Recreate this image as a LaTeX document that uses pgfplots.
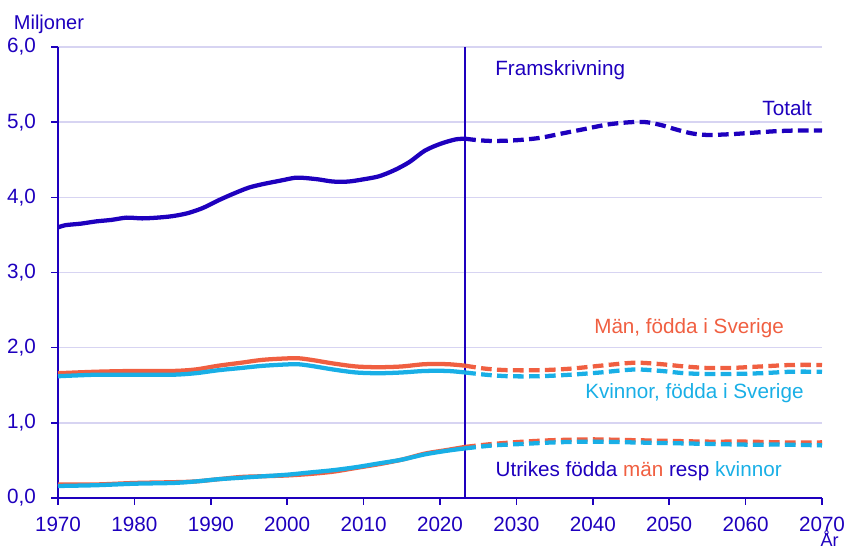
\documentclass[border=0pt]{standalone}
\usepackage{pgfplots}
\pgfplotsset{compat=1.18}
\usepackage{fontspec}
\setmainfont{Liberation Sans}
\definecolor{scbblue}{RGB}{30,0,190}
\definecolor{scborange}{RGB}{240,95,65}
\definecolor{scblight}{RGB}{25,175,230}
\definecolor{gridc}{RGB}{215,212,242}
\begin{document}
\begin{tikzpicture}
\begin{axis}[
  scale only axis,
  width=573pt, height=338.25pt,
  xmin=1970, xmax=2070, ymin=0, ymax=6,
  axis x line*=bottom, axis y line*=left,
  axis line style={scbblue, line width=1.2pt},
  xtick={1970,1980,...,2070},
  ytick={0,1,...,6},
  tick style={scbblue, line width=1.2pt},
  tick align=outside,
  major tick length=5pt,
  ymajorgrids,
  grid style={gridc, line width=1.1pt},
  x tick label style={/pgf/number format/1000 sep={}, font=\fontsize{15.5}{18}\selectfont, text=scbblue, yshift=-5.5pt},
  y tick label style={/pgf/number format/.cd, use comma, fixed, fixed zerofill, precision=1, /tikz/.cd, font=\fontsize{15.5}{18}\selectfont, text=scbblue, xshift=-8pt},
  /pgf/number format/assume math mode=true,
  clip=false,
  every axis plot/.append style={line width=3.2pt, smooth, no markers},
]
\coordinate (o) at (axis cs:1970,0);
% Vertical line at 2023
\addplot[scbblue, line width=1.2pt, sharp plot] coordinates {(2023.3,0) (2023.3,6)};

% Foreign-born men (orange)
\addplot[scborange] coordinates {(1970,0.18)(1975,0.18)(1980,0.20)(1985,0.21)(1988,0.22)(1991,0.25)(1994,0.28)(1997,0.29)(2000,0.30)(2003,0.32)(2006,0.35)(2009,0.40)(2012,0.45)(2015,0.51)(2018,0.59)(2021,0.64)(2023.3,0.68)};
\addplot[scborange, dash pattern=on 8pt off 4pt] coordinates {(2023.3,0.68)(2027,0.72)(2031,0.75)(2035,0.77)(2040,0.78)(2045,0.77)(2050,0.76)(2055,0.75)(2060,0.75)(2065,0.74)(2070,0.74)};
% Foreign-born women (light blue)
\addplot[scblight] coordinates {(1970,0.16)(1975,0.17)(1980,0.19)(1985,0.20)(1988,0.22)(1991,0.25)(1994,0.27)(1997,0.29)(2000,0.31)(2003,0.34)(2006,0.37)(2009,0.41)(2012,0.46)(2015,0.51)(2018,0.58)(2021,0.63)(2023.3,0.66)};
\addplot[scblight, dash pattern=on 8pt off 4pt] coordinates {(2023.3,0.66)(2027,0.70)(2031,0.72)(2035,0.74)(2040,0.75)(2045,0.74)(2050,0.73)(2055,0.72)(2060,0.71)(2065,0.71)(2070,0.70)};

% Men born in Sweden
\addplot[scborange] coordinates {(1970,1.66)(1975,1.68)(1980,1.69)(1985,1.69)(1988,1.71)(1991,1.76)(1994,1.80)(1997,1.84)(2001,1.86)(2003,1.84)(2006,1.79)(2009,1.75)(2012,1.74)(2015,1.75)(2018,1.78)(2021,1.78)(2023.3,1.76)};
\addplot[scborange, dash pattern=on 8pt off 4pt] coordinates {(2023.3,1.76)(2026,1.72)(2029,1.70)(2033,1.70)(2037,1.72)(2041,1.76)(2044,1.79)(2046,1.80)(2049,1.78)(2052,1.75)(2055,1.73)(2058,1.73)(2062,1.75)(2066,1.77)(2070,1.77)};
% Women born in Sweden
\addplot[scblight] coordinates {(1970,1.62)(1975,1.64)(1980,1.64)(1985,1.64)(1988,1.66)(1991,1.70)(1994,1.73)(1997,1.76)(2001,1.78)(2003,1.76)(2006,1.71)(2009,1.67)(2012,1.66)(2015,1.67)(2018,1.69)(2021,1.69)(2023.3,1.67)};
\addplot[scblight, dash pattern=on 8pt off 4pt] coordinates {(2023.3,1.67)(2026,1.64)(2029,1.62)(2033,1.62)(2037,1.64)(2041,1.67)(2044,1.70)(2046,1.71)(2049,1.69)(2052,1.66)(2055,1.65)(2058,1.65)(2062,1.66)(2066,1.68)(2070,1.68)};

% Total
\addplot[scbblue] coordinates {(1970,3.60)(1971,3.63)(1973,3.65)(1975,3.68)(1977,3.70)(1979,3.73)(1981,3.72)(1983,3.73)(1985,3.75)(1987,3.79)(1989,3.86)(1991,3.96)(1993,4.05)(1995,4.13)(1997,4.18)(1999,4.22)(2001,4.26)(2002,4.26)(2004,4.24)(2006,4.21)(2008,4.21)(2010,4.24)(2012,4.28)(2014,4.36)(2016,4.47)(2018,4.62)(2020,4.71)(2022,4.77)(2023.3,4.78)};
\addplot[scbblue, dash pattern=on 8pt off 4pt] coordinates {(2023.3,4.78)(2025,4.76)(2027,4.75)(2030,4.76)(2033,4.79)(2036,4.85)(2039,4.91)(2042,4.97)(2045,5.00)(2047,5.00)(2049,4.96)(2051,4.90)(2053,4.85)(2055,4.83)(2058,4.84)(2061,4.86)(2064,4.88)(2067,4.89)(2070,4.89)};

% Labels
\node[anchor=base west, text=scbblue, font=\fontsize{15}{18}\selectfont, inner sep=0pt] at (axis cs:1964.2,6.23) {Miljoner};
\node[anchor=base, text=scbblue, font=\fontsize{13.5}{16}\selectfont, inner sep=0pt] at (axis cs:2071,-0.64) {År};
\node[anchor=base west, text=scbblue, font=\fontsize{15.5}{18}\selectfont, inner sep=0pt] at (axis cs:2027.2,5.62) {Framskrivning};
\node[anchor=base east, text=scbblue, font=\fontsize{15.5}{18}\selectfont, inner sep=0pt] at (axis cs:2068.7,5.09) {Totalt};
\node[anchor=base, text=scborange, font=\fontsize{15.5}{18}\selectfont, inner sep=0pt] at (axis cs:2052.6,2.19) {Män, födda i Sverige};
\node[anchor=base, text=scblight, font=\fontsize{15.5}{18}\selectfont, inner sep=0pt] at (axis cs:2053.3,1.33) {Kvinnor, födda i Sverige};
\node[anchor=base, text=scbblue, font=\fontsize{15.5}{18}\selectfont, inner sep=0pt] at (axis cs:2046,0.28) {Utrikes födda \textcolor{scborange}{män} resp \textcolor{scblight}{kvinnor}};
\end{axis}
\pgfresetboundingbox
\path ([shift={(-43.5pt,-39pt)}]o) rectangle ++(637.5pt,412.5pt);
\end{tikzpicture}
\end{document}
